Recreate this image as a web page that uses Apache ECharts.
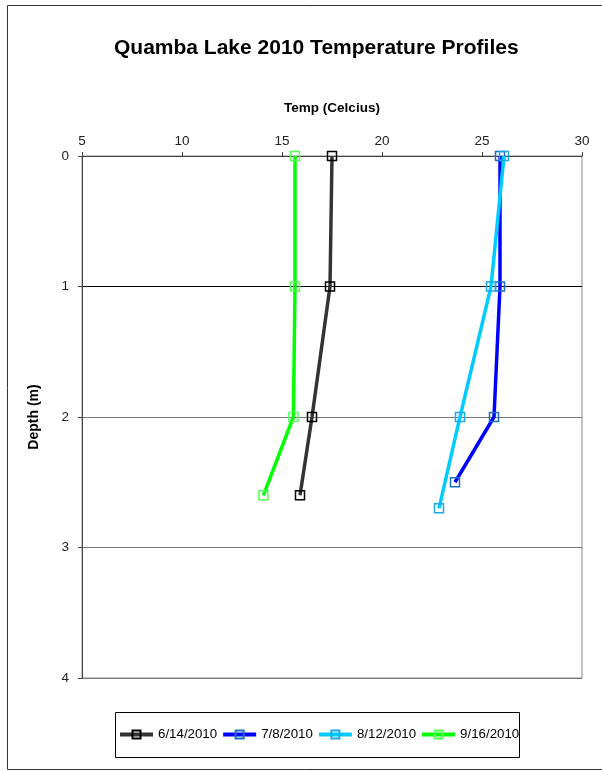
<!DOCTYPE html>
<html><head><meta charset="utf-8">
<script src="https://cdn.jsdelivr.net/npm/echarts@6/dist/echarts.min.js"></script>
<style>html,body{margin:0;padding:0;background:#fff}#c{width:602px;height:771px}</style>
</head><body><div id="c"></div>
<script>
const seriesNames = ['6/14/2010', '7/8/2010', '8/12/2010', '9/16/2010'];
const depths_0614 = [0, 1, 2, 2.6];
const temps_0614 = [17.5, 17.4, 16.5, 15.9];
const depths_0708 = [0, 1, 2, 2.5];
const temps_0708 = [25.9, 25.9, 25.6, 23.65];
const depths_0812 = [0, 1, 2, 2.7];
const temps_0812 = [26.1, 25.45, 23.9, 22.85];
const depths_0916 = [0, 1, 2, 2.6];
const temps_0916 = [15.65, 15.65, 15.57, 14.07];
const lineColors = ['#333333', '#0000ff', '#00ccff', '#00ff00'];
const markerColors = ['#000000', '#1a6fc4', '#1aa9e6', '#55ff55'];

const allTemps = [temps_0614, temps_0708, temps_0812, temps_0916];
const allDepths = [depths_0614, depths_0708, depths_0812, depths_0916];
const font = 'Liberation Sans, Arial, sans-serif';

const chart = echarts.init(document.getElementById('c'), null, {renderer: 'canvas'});
chart.setOption({
  animation: false,
  backgroundColor: '#fff',
  title: {
    text: 'Quamba Lake 2010 Temperature Profiles',
    left: 109, top: 33,
    textStyle: {fontFamily: font, fontSize: 21, fontWeight: 'bold', color: '#000'}
  },
  graphic: [
    {type: 'rect', shape: {x: 7.5, y: 5.5, width: 600, height: 764}, style: {fill: 'none', stroke: '#333', lineWidth: 1}, z: -1},
    {type: 'rect', shape: {x: 115.5, y: 712.5, width: 404, height: 45}, style: {fill: 'none', stroke: '#000', lineWidth: 1}}
  ],
  legend: {
    left: 118, top: 728, itemWidth: 33, itemHeight: 10, itemGap: 4,
    padding: 0,
    lineStyle: {width: 4},
    textStyle: {fontFamily: font, fontSize: 13.3, color: '#000'},
    data: seriesNames
  },
  grid: {left: 82, right: 20, top: 156, bottom: 93, show: true, borderColor: '#888', borderWidth: 1},
  xAxis: {
    type: 'value', position: 'top', min: 5, max: 30, interval: 5,
    name: 'Temp (Celcius)', nameLocation: 'middle', nameGap: 41,
    nameTextStyle: {fontFamily: font, fontSize: 13.5, fontWeight: 'bold', color: '#000'},
    axisLine: {show: true, lineStyle: {color: '#444', width: 1}},
    axisTick: {show: true, inside: false, length: 4, lineStyle: {color: '#444'}},
    axisLabel: {fontFamily: font, fontSize: 13.5, color: '#222', margin: 8},
    splitLine: {show: false}
  },
  yAxis: {
    type: 'value', inverse: true, min: 0, max: 4, interval: 1,
    name: 'Depth (m)', nameLocation: 'middle', nameGap: 41, nameRotate: 90,
    nameTextStyle: {fontFamily: font, fontSize: 14, fontWeight: 'bold', color: '#000'},
    axisLine: {show: true, lineStyle: {color: '#444', width: 1}},
    axisTick: {show: true, inside: false, length: 4, lineStyle: {color: '#444'}},
    axisLabel: {fontFamily: font, fontSize: 13.5, color: '#222', margin: 13},
    splitLine: {show: true, lineStyle: {color: ['#333', '#000', '#777', '#777', '#777'], width: 1}}
  },
  series: seriesNames.map((n, i) => ({
    name: n, type: 'line',
    data: allTemps[i].map((t, k) => [t, allDepths[i][k]]),
    symbol: 'rect', symbolSize: 9, showAllSymbol: true,
    lineStyle: {color: lineColors[i], width: 3.5},
    itemStyle: {color: 'rgba(255,255,255,0)', borderColor: markerColors[i], borderWidth: 1.5},
    emphasis: {disabled: true},
    z: 2 + i
  }))
});
</script></body></html>
